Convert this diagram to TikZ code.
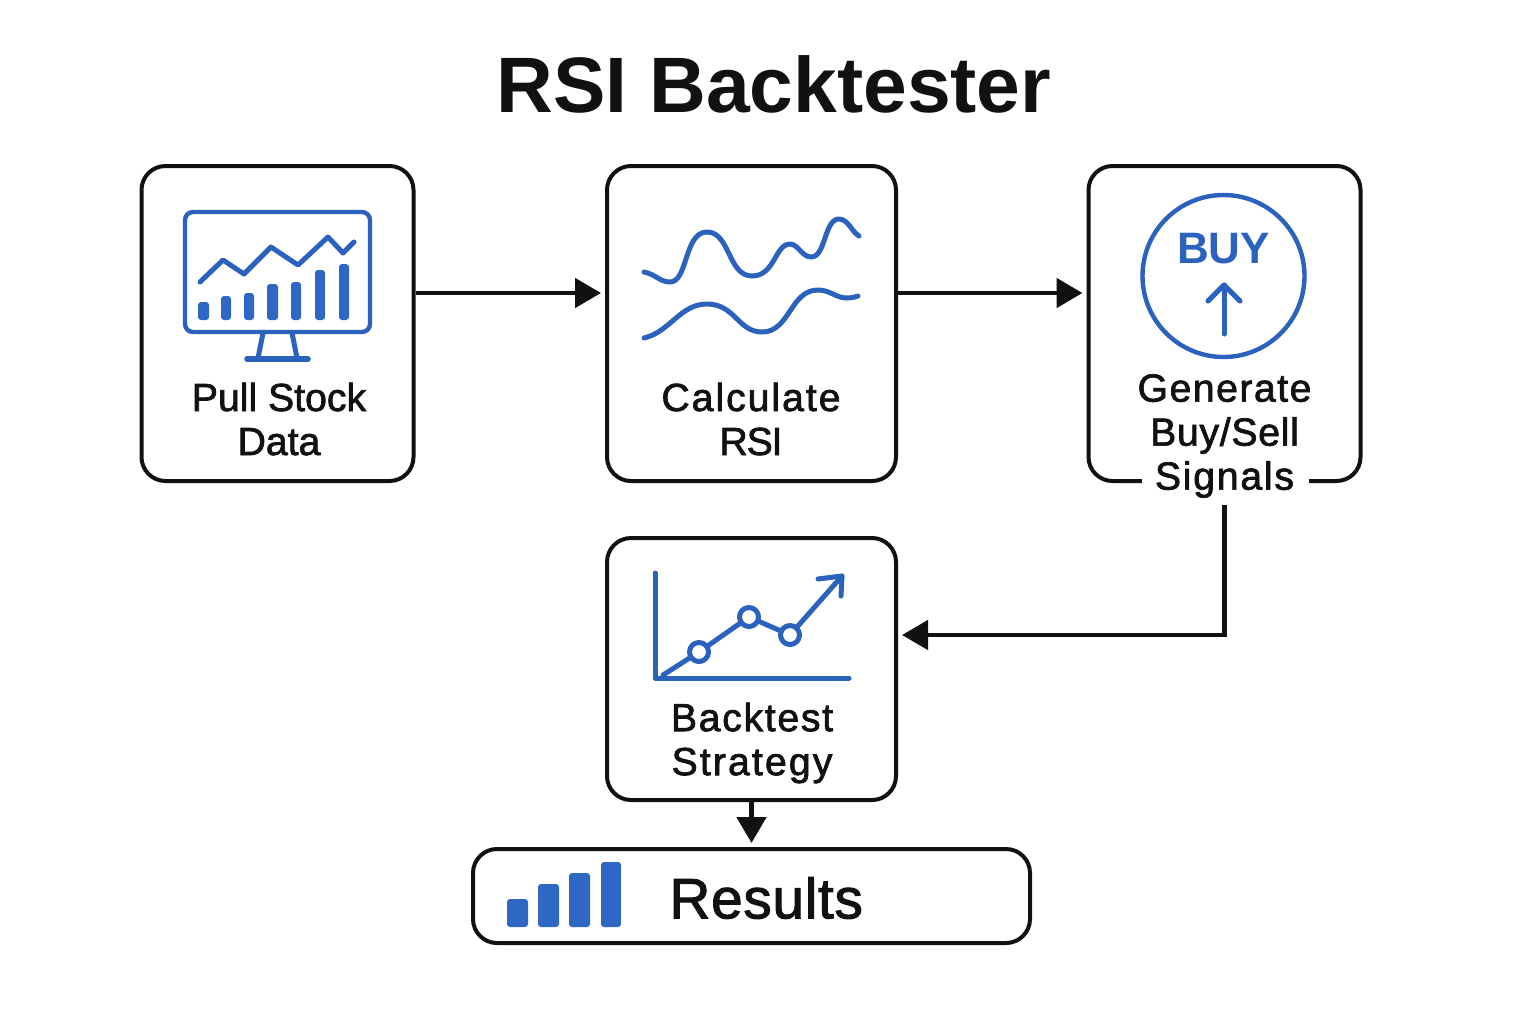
\documentclass[tikz,border=0pt]{standalone}
\usepackage{fontspec}
\usetikzlibrary{arrows.meta}
\setmainfont{Liberation Sans}
\newfontfamily\medfont[FakeBold=1.8]{Liberation Sans}
\newfontfamily\boldfont{Liberation Sans Bold}
\newcommand{\spaced}[2]{{\addfontfeature{LetterSpace=#1}#2}}
\definecolor{ink}{HTML}{111111}
\definecolor{iconblue}{HTML}{2A62BD}
\definecolor{barblue}{HTML}{2F68C4}
\tikzset{
  flowbox/.style={draw=ink,line width=2pt,rounded corners=12pt,fill=white,inner sep=0pt},
  flowarrow/.style={draw=ink,line width=2.4pt,-{Triangle[length=13pt,width=14.5pt]},shorten >=2pt},
  label/.style={text=ink,font=\medfont\fontsize{19.6}{22}\selectfont,align=center,inner sep=0pt},
  iconline/.style={draw=iconblue,line width=2.5pt,line cap=round,line join=round},
  iconbar/.style={fill=barblue,rounded corners=1.5pt},
}
\begin{document}
\begin{tikzpicture}[x=0.5pt,y=-0.5pt]
\useasboundingbox (0,0) rectangle (1536,1024);
\fill[white] (0,0) rectangle (1536,1024);

\node[text=ink,font=\boldfont\fontsize{39.3}{44}\selectfont,inner sep=0pt] (title) at (774,84) {RSI Backtester};

% boxes
\node[flowbox,minimum width=136pt,minimum height=157.5pt] (b1) at (277.5,323.5) {};
\node[flowbox,minimum width=144.5pt,minimum height=157.5pt] (b2) at (751.5,323.5) {};
\node[flowbox,minimum width=136pt,minimum height=157.5pt] (b3) at (1224.5,323.5) {};
\node[flowbox,minimum width=144.5pt,minimum height=131pt] (b4) at (751.5,669) {};
\node[flowbox,minimum width=278.5pt,minimum height=47pt] (b5) at (751.5,896) {};

% gap in the border of the third box, where its label crosses it
\fill[white] (1142,472) rectangle (1309,492);

% labels
\node[label] (l1) at (279,419) {Pull Stock\\Data};
\node[label] (l2) at (751,419) {\spaced{5}{Calculate}\\\spaced{-3}{RSI}};
\node[label,inner ysep=3.5pt] (l3) at (1224.5,436) {\spaced{3.8}{Generate}\\\spaced{1.8}{Buy/Sell}\\\spaced{4.5}{Signals}};
\node[label] (l4) at (752,743) {\spaced{4.3}{Backtest}\\\spaced{5.4}{Strategy}};
\node[text=ink,font=\medfont\fontsize{28.4}{32}\selectfont,inner sep=0pt,anchor=west] (l5) at (669,898) {\spaced{1.2}{Results}};

% connectors
\draw[flowarrow] ([yshift=15.25pt]b1.east) -- ([yshift=15.25pt]b2.west);
\draw[flowarrow] ([yshift=15.25pt]b2.east) -- ([yshift=15.25pt]b3.west);
\draw[flowarrow,rounded corners=0pt,line join=miter] (l3.south) |- ([yshift=17pt]b4.east);
\draw[flowarrow] (b4.south) -- (b5.north);

% monitor icon
\draw[iconline,line width=2.2pt,rounded corners=4pt] (185,212) rectangle (370,332);
\draw[iconline] (200,282) -- (223,260) -- (244,274) -- (271,247) -- (298,265) -- (328,237) -- (343,253) -- (354,242);
\foreach \xa/\xb/\yt in {198/209/302,221/231/296,244/254/293,267/278/284,291/301/282,315/325/270,339/349/264}{
  \fill[iconbar] (\xa,\yt) rectangle (\xb,320);
}
\draw[iconline,line cap=butt] (263,333) -- (258,358);
\draw[iconline,line cap=butt] (292,333) -- (297,358);
\draw[iconline,line width=2.8pt] (247,359) -- (308,359);

% RSI waves
\draw[iconline] (644,272) .. controls (655,274) and (660,282) .. (670,282)
  .. controls (688,282) and (684,232) .. (707,232)
  .. controls (730,232) and (728,276) .. (752,276)
  .. controls (775,276) and (775,244) .. (790,244)
  .. controls (798,244) and (802,257) .. (811,257)
  .. controls (826,257) and (824,219) .. (839,219)
  .. controls (848,219) and (852,232) .. (859,236);
\draw[iconline] (644,338) .. controls (670,332) and (680,304) .. (707,304)
  .. controls (735,304) and (738,332) .. (762,332)
  .. controls (790,332) and (790,290) .. (818,290)
  .. controls (830,290) and (836,298) .. (847,298)
  .. controls (851,298) and (855,297) .. (858,296);

% BUY icon
\draw[iconline,line width=2.2pt] (1223.5,276) circle[radius=81];
\node[text=iconblue,font=\boldfont\fontsize{22}{24}\selectfont,inner sep=0pt] (buy) at (1223.5,249) {BUY};
\draw[iconline] (1224,334) -- (1224,285);
\draw[iconline] (1208,301) -- (1224,285) -- (1240,301);

% backtest icon
\draw[iconline] (655,573) -- (655,678) -- (849,678);
\draw[iconline] (663,675) -- (699,652) -- (749,617) -- (790,635) -- (842,576);
\draw[iconline] (818,579) -- (842,576) -- (841,596);
\foreach \cx/\cy in {699/652,749/617,790/635}{
  \draw[iconline,fill=white] (\cx,\cy) circle[radius=9.5];
}

% results bars
\foreach \xa/\xb/\yt in {507/528/899,538/559/884,569/590/873,601/621/862}{
  \fill[iconbar] (\xa,\yt) rectangle (\xb,927);
}
\end{tikzpicture}
\end{document}
